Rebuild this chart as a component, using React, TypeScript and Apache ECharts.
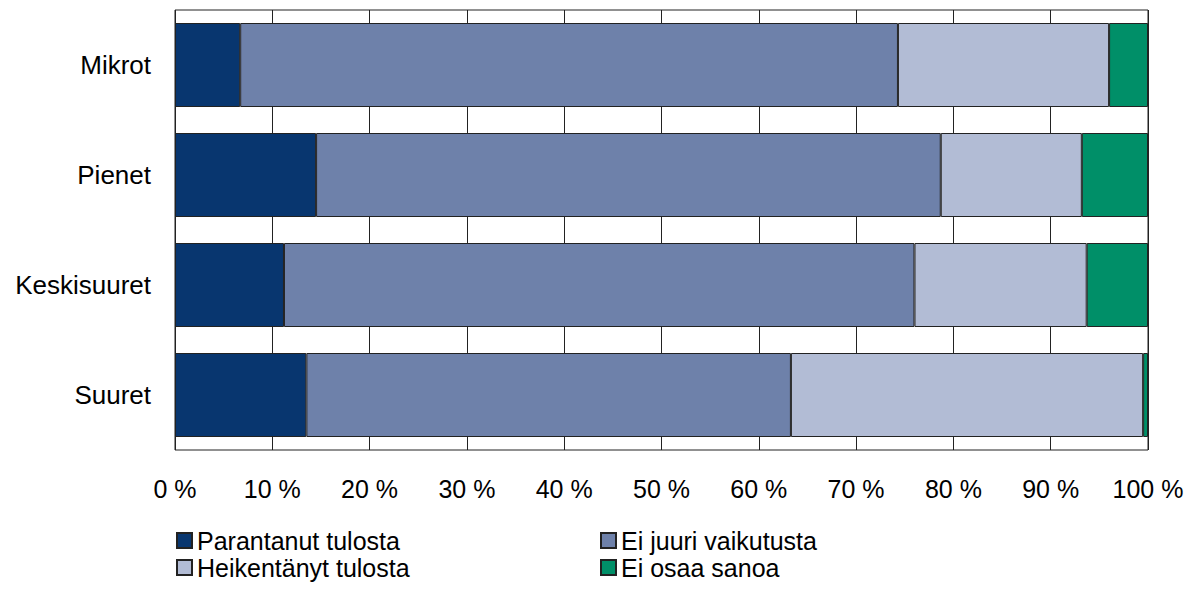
import React, { useEffect, useRef } from "react";
import * as echarts from "echarts";

const categories = ["Mikrot", "Pienet", "Keskisuuret", "Suuret"];
const seriesNames = ["Parantanut tulosta", "Ei juuri vaikutusta", "Heikentänyt tulosta", "Ei osaa sanoa"];
const parantanut = [6.7, 14.5, 11.2, 13.5];
const eiJuuri = [67.6, 64.2, 64.8, 49.8];
const heikentanyt = [21.7, 14.5, 17.7, 36.2];
const eiOsaa = [4.0, 6.8, 6.3, 0.5];
const colors = ["#08366F", "#6E81AA", "#B2BCD5", "#008F68"];

export default function App() {
  const ref = useRef<HTMLDivElement>(null);
  useEffect(() => {
    if (!ref.current) return;
    const chart = echarts.init(ref.current, null, { renderer: "svg" });
    const values = [parantanut, eiJuuri, heikentanyt, eiOsaa];
    const font = "'Liberation Sans', Arial, sans-serif";
    const legendText = { fontSize: 25, lineHeight: 25, color: "#000", fontFamily: font };
    chart.setOption({
      animation: false,
      textStyle: { fontFamily: font },
      grid: {
        left: 175,
        right: 46,
        top: 10,
        bottom: 142,
        show: true,
        borderColor: "#222",
        borderWidth: 1,
        backgroundColor: "transparent",
      },
      xAxis: {
        type: "value",
        min: 0,
        max: 100,
        interval: 10,
        axisLine: { show: false },
        axisTick: { show: false },
        splitLine: { show: true, lineStyle: { color: "#222", width: 1 } },
        axisLabel: {
          formatter: "{value} %",
          fontSize: 25,
          color: "#000",
          margin: 26,
          fontFamily: font,
        },
      },
      yAxis: {
        type: "category",
        data: categories,
        inverse: true,
        axisLine: { show: false },
        axisTick: { show: false },
        splitLine: { show: false },
        axisLabel: { fontSize: 26, color: "#000", margin: 24, fontFamily: font },
      },
      legend: [
        {
          data: [seriesNames[0], seriesNames[2]],
          orient: "vertical",
          left: 171,
          top: 523,
          itemWidth: 15,
          itemHeight: 15,
          itemGap: 2,
          icon: "rect",
          textStyle: legendText,
        },
        {
          data: [seriesNames[1], seriesNames[3]],
          orient: "vertical",
          left: 595,
          top: 523,
          itemWidth: 15,
          itemHeight: 15,
          itemGap: 2,
          icon: "rect",
          textStyle: legendText,
        },
      ],
      series: seriesNames.map((name, i) => ({
        name,
        type: "bar",
        stack: "total",
        barWidth: 84,
        data: values[i],
        itemStyle: { color: colors[i], borderColor: "#222", borderWidth: 1 },
      })),
    });
    return () => chart.dispose();
  }, []);
  return (
    <div
      ref={ref}
      style={{ position: "fixed", left: 0, top: 0, width: 1194, height: 592, background: "#fff" }}
    />
  );
}
